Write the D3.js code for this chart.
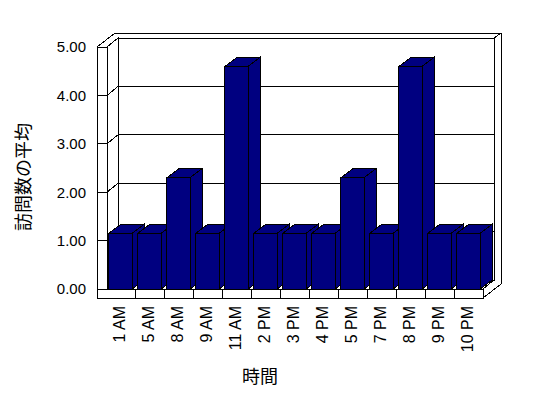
<!DOCTYPE html>
<html>
<head>
<meta charset="utf-8">
<script src="https://cdn.jsdelivr.net/npm/d3@7"></script>
<style>
  body { margin: 0; background: #fff; }
  text { font-family: "Liberation Sans", Arial, sans-serif; fill: #000; }
  .jp { font-family: "Noto Sans CJK JP", sans-serif; }
</style>
</head>
<body>
<div id="chart"></div>
<script>
var categories = ["1 AM", "5 AM", "8 AM", "9 AM", "11 AM", "2 PM", "3 PM",
                  "4 PM", "5 PM", "7 PM", "8 PM", "9 PM", "10 PM"];
var values = [1.15, 1.15, 2.3, 1.15, 4.6, 1.15, 1.15, 1.15, 2.3, 1.15, 4.6, 1.15, 1.15];
var yTicks = [0, 1, 2, 3, 4, 5];
var xTitle = "時間";
var yTitle = "訪問数の平均";

var width = 548, height = 398;

// front plane of the box
var boxLeft = 97, wallW = 10, boxRight = 483;
var floorTop = 289, floorH = 9;
// depth offsets: inner planes, outer shell, bars
var dx = 11, dy = -9;
var ox = 18, oy = -14;
var bdx = 12, bdy = -9;

var svg = d3.select("#chart")
  .append("svg")
  .attr("width", width)
  .attr("height", height)
  .style("background", "#fff");

var y = d3.scaleLinear()
  .domain([0, 5])
  .range([floorTop, 47]);

var x = d3.scaleBand()
  .domain(categories)
  .range([boxLeft + wallW - 1, boxRight]);

var line = d3.line();
var g = svg.append("g")
  .attr("shape-rendering", "crispEdges")
  .attr("stroke", "#000")
  .attr("stroke-width", 1);

function poly(pts, fill) {
  g.append("path")
    .attr("d", line(pts) + "Z")
    .attr("fill", fill);
}
function seg(pts) {
  g.append("path")
    .attr("d", line(pts))
    .attr("fill", "none");
}

var yTop = y(5), yBottom = floorTop + floorH;
var innerL = boxLeft + wallW, backL = innerL + dx, backR = boxRight + dx;

// outer shell
poly([[boxLeft, yTop], [boxLeft, yBottom], [boxRight, yBottom], [boxRight + ox, yBottom + oy],
      [boxRight + ox, yTop + oy], [boxLeft + ox, yTop + oy]], "#fff");
// back wall
poly([[backL, yTop + dy], [backR, yTop + dy], [backR, floorTop + dy], [backL, floorTop + dy]], "#fff");
seg([[backR, yTop + dy], [boxRight + ox, yTop + oy]]);
// left wall inner face and front edge
poly([[innerL, yTop], [backL, yTop + dy], [backL, floorTop + dy], [innerL, floorTop]], "#fff");
poly([[boxLeft, yTop], [innerL, yTop], [innerL, floorTop], [boxLeft, floorTop]], "#fff");
seg([[boxLeft, yTop], [boxLeft + ox, yTop + oy]]);
// floor
poly([[innerL, floorTop], [boxRight, floorTop], [backR, floorTop + dy], [backL, floorTop + dy]], "#fff");
poly([[boxLeft, floorTop], [boxRight, floorTop], [boxRight, yBottom], [boxLeft, yBottom]], "#fff");

// gridlines
yTicks.forEach(function (t) {
  var yy = y(t);
  seg([[boxLeft, yy], [innerL, yy], [backL, yy + dy], [backR, yy + dy]]);
});

// category ticks on floor edge
categories.slice(1).forEach(function (c) {
  var xx = x(c);
  seg([[xx, floorTop], [xx, yBottom]]);
});

// bars
var barW = x.bandwidth() * 0.8;
categories.forEach(function (c, i) {
  var x0 = x(c) + (x.bandwidth() - barW) / 2;
  var x1 = x0 + barW;
  var yt = y(values[i]);
  poly([[x0, yt], [x0 + bdx, yt + bdy], [x1 + bdx, yt + bdy], [x1, yt]], "#000080");
  poly([[x1, yt], [x1 + bdx, yt + bdy], [x1 + bdx, floorTop + bdy], [x1, floorTop]], "#000080");
  poly([[x0, yt], [x1, yt], [x1, floorTop], [x0, floorTop]], "#000080");
});

// y tick labels
svg.selectAll(".ylab")
  .data(yTicks)
  .enter()
  .append("text")
  .attr("x", 86)
  .attr("y", function (d) { return y(d); })
  .attr("dy", "0.36em")
  .attr("text-anchor", "end")
  .style("font-size", "15px")
  .text(function (d) { return d.toFixed(2); });

// x tick labels
svg.selectAll(".xlab")
  .data(categories)
  .enter()
  .append("text")
  .attr("transform", function (d) {
    return "translate(" + (x(d) + x.bandwidth() / 2 - 1) + ",306) rotate(-90)";
  })
  .attr("dy", "0.36em")
  .attr("text-anchor", "end")
  .style("font-size", "16px")
  .text(function (d) { return d; });

// axis titles
svg.append("text")
  .attr("class", "jp")
  .attr("x", 260)
  .attr("y", 383)
  .attr("text-anchor", "middle")
  .style("font-size", "18px")
  .text(xTitle);

svg.append("text")
  .attr("class", "jp")
  .attr("transform", "translate(24,177) rotate(-90)")
  .attr("dy", "0.36em")
  .attr("text-anchor", "middle")
  .style("font-size", "18px")
  .text(yTitle);
</script>
</body>
</html>
